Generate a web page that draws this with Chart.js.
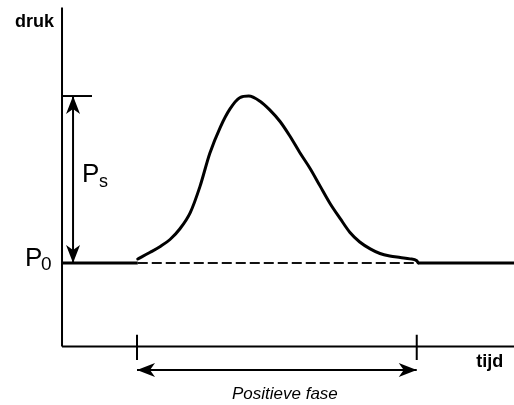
<!DOCTYPE html>
<html>
<head>
<meta charset="utf-8">
<script src="https://cdn.jsdelivr.net/npm/chart.js@4/dist/chart.umd.min.js"></script>
<style>
  html, body { margin: 0; padding: 0; background: #fff; }
  canvas { display: block; }
</style>
</head>
<body>
<canvas id="blastChart" width="514" height="405"></canvas>
<script>
// overpressure curve (time units, pressure with P0 = 1)
const curveTime = [1.01, 1.17, 1.31, 1.44, 1.57, 1.71, 1.84, 1.97, 2.11, 2.24, 2.37, 2.49, 2.64, 2.77, 2.91, 3.04, 3.17, 3.31, 3.44, 3.57, 3.71, 3.84, 3.97, 4.11, 4.24, 4.37, 4.51, 4.64, 4.73, 4.75];
const curvePressure = [1.024, 1.063, 1.099, 1.141, 1.204, 1.302, 1.459, 1.656, 1.813, 1.923, 1.990, 2.000, 1.969, 1.917, 1.846, 1.759, 1.662, 1.565, 1.462, 1.360, 1.266, 1.183, 1.126, 1.085, 1.057, 1.042, 1.033, 1.025, 1.014, 1.000];

const P0 = 1.0;
const PEAK = 2.0;
const phaseTimes = [1.0, 4.73]; // start / end of positive phase
const labels = { y: "druk", x: "tijd", p0: ["P", "0"], ps: ["P", "s"], phase: "Positieve fase" };

const TIME_AXIS_P = 0.5;   // pressure level where the time axis is drawn
const TIME_MAX = 6.03;
const PRESSURE_TOP = 2.53;
const FONT = "'Liberation Sans', Arial, sans-serif";

function seg(x1, y1, x2, y2) {
  return [{ x: x1, y: y1 }, { x: x2, y: y2 }];
}

function lineSet(data, width, extra) {
  return Object.assign({
    data: data,
    borderColor: "#000",
    borderWidth: width,
    pointRadius: 0,
    fill: false,
    tension: 0,
  }, extra || {});
}

const psX = 0.147;
const arrowP = 0.36;

function stealth(ctx, tip, dir) {
  // dir: unit vector pointing toward the tip
  const len = 18, half = 7, notch = 13;
  const nx = -dir[1], ny = dir[0];
  ctx.beginPath();
  ctx.moveTo(tip[0], tip[1]);
  ctx.lineTo(tip[0] - dir[0] * len + nx * half, tip[1] - dir[1] * len + ny * half);
  ctx.lineTo(tip[0] - dir[0] * notch, tip[1] - dir[1] * notch);
  ctx.lineTo(tip[0] - dir[0] * len - nx * half, tip[1] - dir[1] * len - ny * half);
  ctx.closePath();
  ctx.fill();
}

const annotations = {
  id: "annotations",
  afterDatasetsDraw(chart) {
    const ctx = chart.ctx;
    const xs = chart.scales.x, ys = chart.scales.y;
    const px = v => xs.getPixelForValue(v);
    const py = v => ys.getPixelForValue(v);
    ctx.save();
    ctx.fillStyle = "#000";

    // arrow heads
    stealth(ctx, [px(psX), py(PEAK)], [0, -1]);
    stealth(ctx, [px(psX), py(P0)], [0, 1]);
    stealth(ctx, [px(phaseTimes[0]), py(arrowP)], [-1, 0]);
    stealth(ctx, [px(phaseTimes[1]), py(arrowP)], [1, 0]);

    // texts
    const axisX = px(0);
    ctx.textBaseline = "alphabetic";
    ctx.font = "bold 18px " + FONT;
    ctx.textAlign = "right";
    ctx.fillText(labels.y, axisX - 8, py(PRESSURE_TOP) + 19);
    ctx.fillText(labels.x, px(TIME_MAX) - 11, py(TIME_AXIS_P) + 20);

    ctx.font = "italic 17px " + FONT;
    ctx.textAlign = "center";
    ctx.fillText(labels.phase, (px(phaseTimes[0]) + px(phaseTimes[1])) / 2 + 8, py(arrowP) + 29);

    // P0
    ctx.textAlign = "left";
    ctx.font = "26px " + FONT;
    ctx.fillText(labels.p0[0], axisX - 37, py(P0) + 3);
    ctx.font = "19px " + FONT;
    ctx.fillText(labels.p0[1], axisX - 21, py(P0) + 7);

    // Ps
    const midY = (py(P0) + py(PEAK)) / 2;
    ctx.font = "26px " + FONT;
    ctx.fillText(labels.ps[0], px(psX) + 9, midY + 2);
    ctx.font = "18px " + FONT;
    ctx.fillText(labels.ps[1], px(psX) + 26, midY + 7);
    ctx.restore();
  }
};

const lastT = curveTime[curveTime.length - 1];

new Chart(document.getElementById("blastChart"), {
  type: "line",
  data: {
    datasets: [
      lineSet(curveTime.map((t, i) => ({ x: t, y: curvePressure[i] })), 3, { cubicInterpolationMode: "monotone", borderJoinStyle: "round", borderCapStyle: "round" }),
      lineSet(seg(0, P0, curveTime[0], P0), 3),
      lineSet(seg(curveTime[0], P0, lastT, P0), 2, { borderDash: [10, 4], borderColor: "#111" }),
      lineSet(seg(lastT, P0, TIME_MAX, P0), 3),
      lineSet(seg(0, TIME_AXIS_P, 0, PRESSURE_TOP), 2),
      lineSet(seg(0, TIME_AXIS_P, TIME_MAX, TIME_AXIS_P), 2),
      lineSet(seg(0, PEAK, 0.4, PEAK), 2),
      lineSet(seg(psX, P0, psX, PEAK), 2),
      lineSet(seg(phaseTimes[0], 0.57, phaseTimes[0], 0.42), 2),
      lineSet(seg(phaseTimes[1], 0.57, phaseTimes[1], 0.42), 2),
      lineSet(seg(phaseTimes[0], arrowP, phaseTimes[1], arrowP), 2),
    ],
  },
  options: {
    responsive: false,
    animation: false,
    layout: { padding: 0 },
    plugins: { legend: { display: false }, tooltip: { enabled: false } },
    scales: {
      x: { type: "linear", min: -0.827, max: 6.027, display: false },
      y: { type: "linear", min: 0.15, max: 2.575, display: false },
    },
  },
  plugins: [annotations],
});
</script>
</body>
</html>
